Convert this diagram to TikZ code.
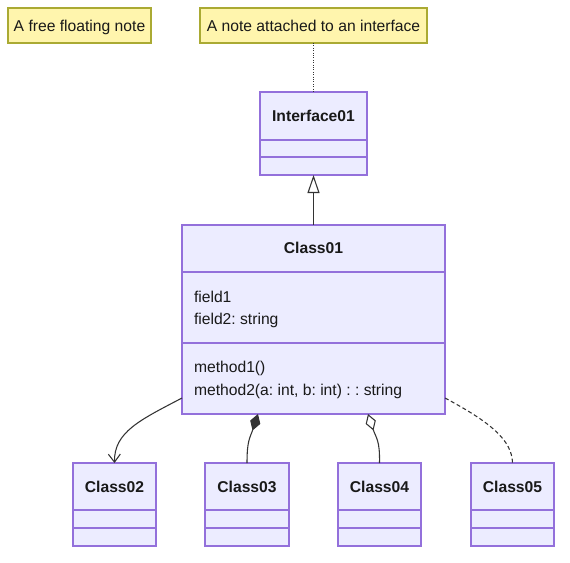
\documentclass[tikz,border=0pt]{standalone}
\usepackage{fontspec}
\setmainfont{Liberation Sans}
\usetikzlibrary{arrows.meta,calc}
\definecolor{clsfill}{HTML}{ECECFF}
\definecolor{clsline}{HTML}{9370DB}
\definecolor{notefill}{HTML}{FFF5AD}
\definecolor{noteline}{HTML}{AAAA33}
\definecolor{edge}{HTML}{333333}
\frenchspacing
\begin{document}
\begin{tikzpicture}[x=0.75pt,y=-0.75pt,
  every node/.style={inner sep=0pt,outer sep=0pt,font=\fontsize{11.75}{14}\selectfont,text=black!90},
  cls/.style={draw=clsline,fill=clsfill,line width=1.1pt,anchor=north west},
  note/.style={draw=noteline,fill=notefill,line width=1pt,anchor=north west},
  divider/.style={draw=clsline,line width=1.1pt},
  title/.style={font=\fontsize{11.75}{14}\selectfont\bfseries,anchor=base},
  member/.style={anchor=base west},
  rel/.style={draw=edge,line width=0.8pt}]
\useasboundingbox (0,0) rectangle (570,562);
% notes
\node[note,minimum width=107.25pt,minimum height=26.25pt] (n1) at (8,8) {};
\node[anchor=base] (n1t) at (79.5,31) {A free floating note};
\node[note,minimum width=170.25pt,minimum height=26.25pt] (n2) at (200,8) {};
\node[anchor=base] (n2t) at (313.5,31) {A note attached to an interface};
% Interface01
\node[cls,minimum width=80.25pt,minimum height=62.25pt] (i1) at (260,92) {};
\node[title] (i1t) at (313.5,121) {Interface01};
\draw[divider] (260,140) -- (367,140);
\draw[divider] (260,157) -- (367,157);
% Class01
\node[cls,minimum width=197.25pt,minimum height=141.75pt] (c1) at (182,225) {};
\node[title] (c1t) at (313.5,253) {Class01};
\draw[divider] (182,272) -- (445,272);
\draw[divider] (182,343) -- (445,343);
\node[member] (f1) at (194,302) {field1};
\node[member] (f2) at (194,324) {field2: string};
\node[member] (m1) at (194,372) {method1()};
\node[member] (m2) at (194,395) {method2(a: int, b: int) : : string};
% bottom classes
\foreach \n/\x/\w in {2/73/62.25,3/205/63,4/338/62.25,5/471/62.25}{
  \node[cls,minimum width=\w pt,minimum height=62.25pt] (c\n) at (\x,463) {};
  \node[title] (c\n t) at ($(\x,492)+(\w/1.5,0)$) {Class0\n};
  \draw[divider] (\x,510) -- ($(\x,510)+(\w/0.75,0)$);
  \draw[divider] (\x,528) -- ($(\x,528)+(\w/0.75,0)$);
}
% connectors
\draw[rel,densely dotted] (n2.south) -- (i1.north);
\draw[rel,-{Triangle[open,length=13.5pt,width=9pt]}] (c1.north) -- (i1.south);
\coordinate (a2) at (182,398);
\draw[rel,-{Straight Barb[length=6pt,width=9pt]}] (a2) .. controls (140,420) and (114,432) .. (c2.north);
\coordinate (a3) at (258,414);
\draw[rel,{Diamond[length=13pt,width=8pt]}-] (a3) .. controls (250,438) and (247,440) .. (c3.north);
\coordinate (a4) at (368,414);
\draw[rel,{Diamond[open,length=13pt,width=8pt,fill=white]}-] (a4) .. controls (376,438) and (380,440) .. (c4.north);
\coordinate (a5) at (445,398);
\draw[rel,dashed,dash pattern=on 3pt off 2pt] (a5) .. controls (490,422) and (512,440) .. (c5.north);
\end{tikzpicture}
\end{document}
